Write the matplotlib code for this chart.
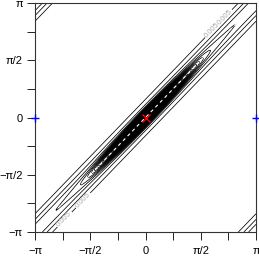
import numpy as np
import matplotlib
matplotlib.use("Agg")
import matplotlib.pyplot as plt

# --- parameters of the pictured density ---
strip_peak = 0.019      # height of the broad diagonal strip
strip_kappa = 10.9      # concentration across the diagonal (broad strip)
core_peak = 0.35        # height of the central concentrated part
core_kappa_along = 3.2  # concentration along the diagonal
core_kappa_across = 100.0
levels = list(np.round(np.arange(0.005, 0.5001, 0.005), 3))
label_levels = [0.005, 0.01]
label_positions = [(-2.3, -2.8), (-1.8, -2.25), (2.15, 2.85), (1.9, 2.4)]
center = (0.0, 0.0)
boundary_pts_x = [-np.pi, np.pi]
boundary_pts_y = [0.0, 0.0]
tick_vals = [-np.pi, -np.pi/2, 0, np.pi/2, np.pi]
tick_labels = ["\u2212\u03c0", "\u2212\u03c0/2", "0", "\u03c0/2", "\u03c0"]
minor_vals = [-3*np.pi/4, -np.pi/4, np.pi/4, 3*np.pi/4]

plt.rcParams['font.family'] = ['Liberation Sans', 'DejaVu Sans']

g = np.linspace(-np.pi, np.pi, 500)
X, Y = np.meshgrid(g, g)
D = np.cos(X - Y) - 1
Z = (strip_peak * np.exp(strip_kappa * D)
     + core_peak * np.exp(core_kappa_along * ((np.cos(X) + np.cos(Y)) / 2 - 1))
     * np.exp(core_kappa_across * D))

fig = plt.figure(figsize=(2.59, 2.59), dpi=100)
ax = fig.add_axes([35/259, 27/259, 221/259, 229/259])
cs = ax.contour(X, Y, Z, levels=levels, colors='black', linewidths=0.55)
fmt = {0.005: '0.005', 0.01: '0.01'}
cl = ax.clabel(cs, levels=label_levels, fmt=fmt, fontsize=5.5, colors='#aaaaaa',
               inline=True, inline_spacing=1, manual=label_positions)

ax.plot(g, g, color='white', ls=(0, (3, 3)), lw=0.8)
ax.plot([center[0]], [center[1]], marker='x', color='red', ms=6, mew=1.0, ls='none', zorder=5)
ax.plot(boundary_pts_x, boundary_pts_y, marker='+', color='blue', ms=6, mew=1.0,
        ls='none', clip_on=False, zorder=6)

ax.set_xlim(-np.pi, np.pi)
ax.set_ylim(-np.pi, np.pi)
ax.set_xticks(tick_vals)
ax.set_xticklabels(tick_labels)
ax.set_yticks(tick_vals)
ax.set_yticklabels(tick_labels)
ax.set_xticks(minor_vals, minor=True)
ax.set_yticks(minor_vals, minor=True)
ax.tick_params(which='both', direction='out', length=5.8, width=0.7, color='#222222')
ax.tick_params(axis='x', labelsize=8, pad=4)
ax.tick_params(axis='y', labelsize=8, pad=3)
for s in ax.spines.values():
    s.set_linewidth(0.8)
    s.set_color('#333333')

fig.savefig('out.png', dpi=100)
